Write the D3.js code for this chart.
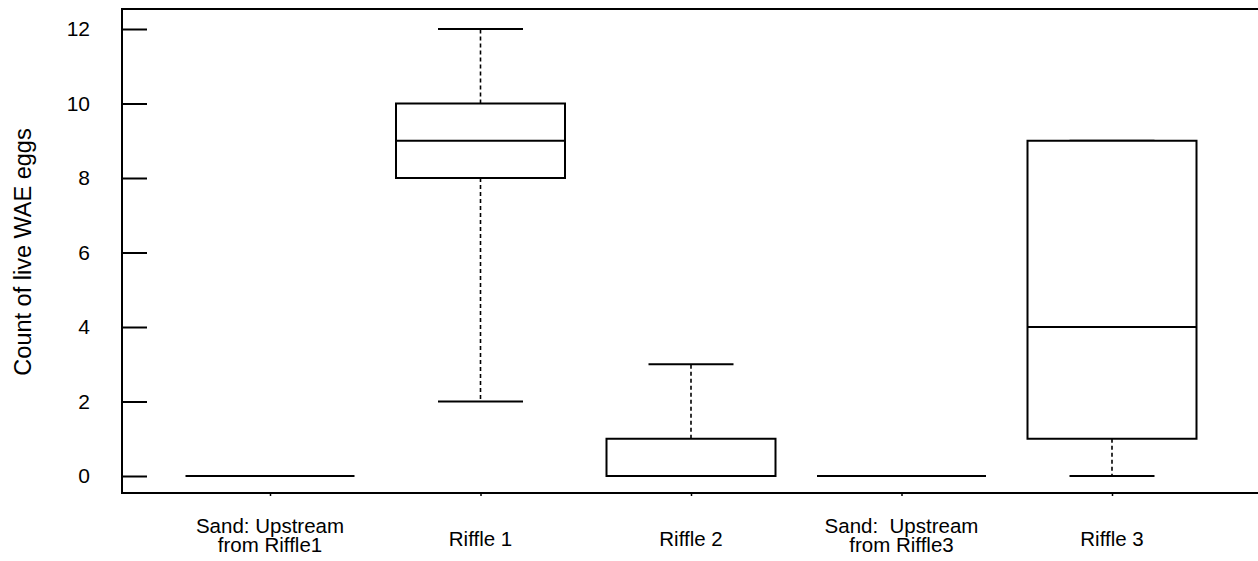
<!DOCTYPE html>
<html>
<head>
<meta charset="utf-8">
<script src="https://cdn.jsdelivr.net/npm/d3@7"></script>
<style>
  body { margin: 0; background: #fff; }
  text { font-family: Arial, "Liberation Sans", sans-serif; fill: #000; }
</style>
</head>
<body>
<svg id="chart" width="1258" height="561"></svg>
<script>
const categories = ["Sand: Upstream\nfrom Riffle1", "Riffle 1", "Riffle 2", "Sand:  Upstream\nfrom Riffle3", "Riffle 3"];
const mins = [0, 2, 0, 0, 0];
const q1s = [0, 8, 0, 0, 1];
const medians = [0, 9, 0, 0, 4];
const q3s = [0, 10, 1, 0, 9];
const maxs = [0, 12, 3, 0, 9];
const yTicks = [0, 2, 4, 6, 8, 10, 12];
const yLabel = "Count of live WAE eggs";

const frame = { left: 122, top: 9, bottom: 493, right: 1258 };
const boxWidth = 169;
const capWidth = 85;

const svg = d3.select('#chart');

const x = d3.scalePoint()
    .domain(categories)
    .range([270, 1112]);

const y = d3.scaleLinear()
    .domain([0, 12])
    .range([476, 29]);

const boxes = categories.map((c, i) => ({
    cat: c, min: mins[i], q1: q1s[i], med: medians[i], q3: q3s[i], max: maxs[i]
}));

// frame: left, top, bottom
svg.append('path')
    .attr('d', `M${frame.right},${frame.top}H${frame.left}V${frame.bottom}H${frame.right}`)
    .attr('fill', 'none')
    .attr('stroke', '#000')
    .attr('stroke-width', 2);

// y axis ticks point inwards
const yAxis = d3.axisLeft(y).tickValues(yTicks).tickSize(-25).tickPadding(32);
const yG = svg.append('g')
    .attr('transform', `translate(${frame.left},0)`)
    .call(yAxis);
yG.select('.domain').remove();
yG.selectAll('.tick line').attr('stroke', '#000').attr('stroke-width', 2);
yG.selectAll('.tick text')
    .attr('x', -32)
    .attr('font-size', 21)
    .attr('font-family', 'Arial, "Liberation Sans", sans-serif');

// x axis: tiny ticks down
const xAxis = d3.axisBottom(x).tickSize(3).tickFormat('');
const xG = svg.append('g')
    .attr('transform', `translate(0,${frame.bottom})`)
    .call(xAxis);
xG.select('.domain').remove();
xG.selectAll('.tick line').attr('stroke', '#000').attr('stroke-width', 1.5);

// category labels
svg.append('g').selectAll('text')
    .data(categories)
    .join('text')
    .attr('text-anchor', 'middle')
    .attr('font-size', 20.5)
    .style('white-space', 'pre')
    .attr('transform', d => `translate(${x(d)},0)`)
    .each(function (d) {
        const lines = d.split('\n');
        const base = lines.length > 1 ? 533 : 546;
        d3.select(this).selectAll('tspan')
            .data(lines)
            .join('tspan')
            .attr('x', 0)
            .attr('y', (l, i) => base + i * 19)
            .text(l => l);
    });

// y label
svg.append('text')
    .attr('transform', `translate(31,252) rotate(-90)`)
    .attr('text-anchor', 'middle')
    .attr('font-size', 23.5)
    .text(yLabel);

// boxes
const g = svg.append('g');
const bg = g.selectAll('g.box')
    .data(boxes)
    .join('g')
    .attr('class', 'box');

// whiskers
bg.append('line')
    .attr('x1', d => x(d.cat)).attr('x2', d => x(d.cat))
    .attr('y1', d => y(d.q3)).attr('y2', d => y(d.max))
    .attr('stroke', '#000').attr('stroke-width', 1.6)
    .attr('stroke-dasharray', '4,3');
bg.append('line')
    .attr('x1', d => x(d.cat)).attr('x2', d => x(d.cat))
    .attr('y1', d => y(d.q1)).attr('y2', d => y(d.min))
    .attr('stroke', '#000').attr('stroke-width', 1.6)
    .attr('stroke-dasharray', '4,3');

// caps
bg.selectAll('line.cap')
    .data(d => [d.min, d.max].map(v => ({ cat: d.cat, v })))
    .join('line')
    .attr('class', 'cap')
    .attr('x1', d => x(d.cat) - capWidth / 2).attr('x2', d => x(d.cat) + capWidth / 2)
    .attr('y1', d => y(d.v)).attr('y2', d => y(d.v))
    .attr('stroke', '#000').attr('stroke-width', 2);

// box
bg.append('rect')
    .attr('x', d => x(d.cat) - boxWidth / 2)
    .attr('width', boxWidth)
    .attr('y', d => y(d.q3))
    .attr('height', d => y(d.q1) - y(d.q3))
    .attr('fill', '#fff')
    .attr('stroke', '#000')
    .attr('stroke-width', 2);

// median
bg.append('line')
    .attr('x1', d => x(d.cat) - boxWidth / 2).attr('x2', d => x(d.cat) + boxWidth / 2)
    .attr('y1', d => y(d.med)).attr('y2', d => y(d.med))
    .attr('stroke', '#000').attr('stroke-width', 2);
</script>
</body>
</html>
